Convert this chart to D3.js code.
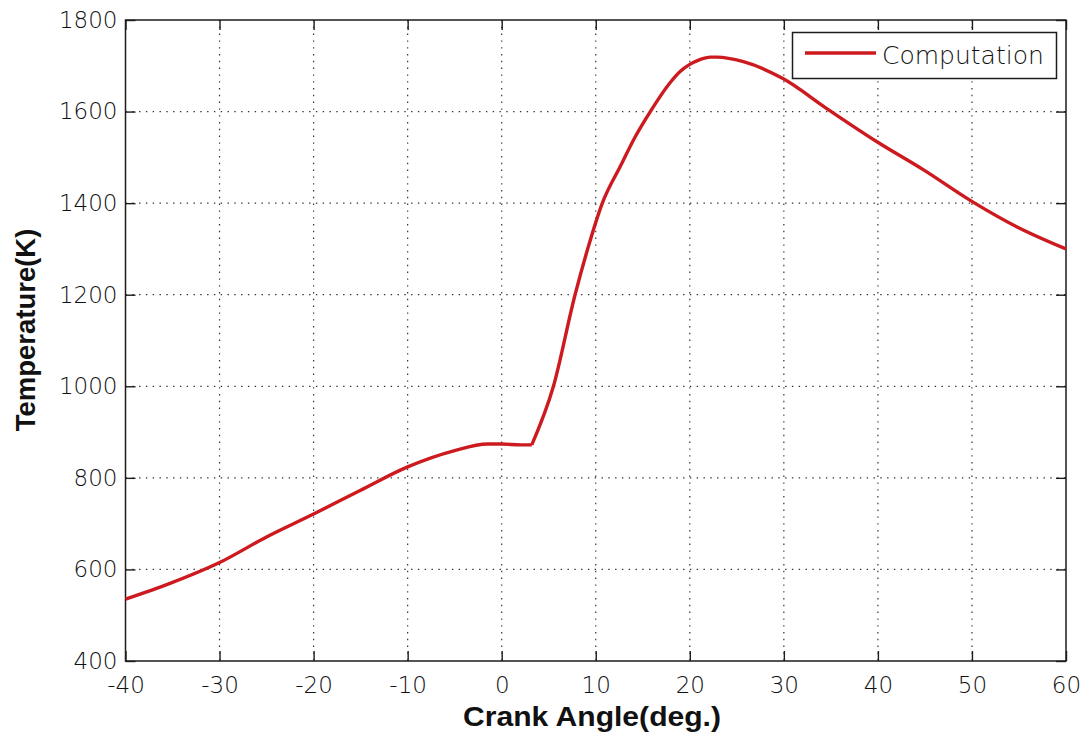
<!DOCTYPE html>
<html>
<head>
<meta charset="utf-8">
<script src="https://cdn.jsdelivr.net/npm/d3@7/dist/d3.min.js"></script>
<style>
  html, body { margin: 0; padding: 0; background: #fff; }
  svg { display: block; }
</style>
</head>
<body>
<svg id="chart" width="1086" height="740"></svg>
<script>
// Crank angle (deg) and in-cylinder temperature (K)
const crankAngle = [-40, -35.2, -30, -25, -20, -15, -10, -5.1, -1.5, 0, 2, 3.2,
  5.5, 7.8, 9.1, 10.7, 12.6, 14.2, 15.8, 17.9, 19, 20, 21, 22.2, 22.9,
  25.7, 29.9, 34.6, 39.9, 44.9, 49.9, 54.8, 60];
const temperature = [535, 570, 615, 671, 721, 773, 824, 859, 874, 874, 872, 872,
  1000, 1200, 1297, 1400, 1480, 1545, 1600, 1663, 1688, 1703, 1713, 1719, 1719,
  1709, 1672, 1606, 1534, 1472, 1405, 1348, 1300];
// angle where combustion starts (slope break in the curve)
const ignitionAngle = 3.2;

const xTicks = [-40, -30, -20, -10, 0, 10, 20, 30, 40, 50, 60];
const yTicks = [400, 600, 800, 1000, 1200, 1400, 1600, 1800];
const seriesName = "Computation";

const svg = d3.select("#chart");
const m = { left: 125.5, right: 1066, top: 20, bottom: 661 };

const x = d3.scaleLinear().domain([-40, 60]).range([m.left, m.right]);
const y = d3.scaleLinear().domain([400, 1800]).range([m.bottom, m.top]);

const tickFont = "'DejaVu Sans', Verdana, sans-serif";
const titleFont = "'Liberation Sans', Arial, sans-serif";
const ink = "#1c1c1c";
const red = "#cc1a1f";

// dotted grid
const grid = svg.append("g");
grid.selectAll("line.gx").data(xTicks.slice(1, -1)).join("line")
  .attr("x1", d => x(d)).attr("x2", d => x(d))
  .attr("y1", m.top).attr("y2", m.bottom)
  .attr("stroke", "#333").attr("stroke-width", 1.2)
  .attr("stroke-dasharray", "1.4,5.4");
grid.selectAll("line.gy").data(yTicks.slice(1, -1)).join("line")
  .attr("y1", d => y(d)).attr("y2", d => y(d))
  .attr("x1", m.left).attr("x2", m.right)
  .attr("stroke", "#333").attr("stroke-width", 1.2)
  .attr("stroke-dasharray", "1.4,5.4");

// axes with inward ticks on all four sides
const fmt = d => String(d);
function styleAxis(g) {
  g.select(".domain").remove();
  g.selectAll(".tick line").attr("stroke", ink).attr("stroke-width", 1.4);
  g.selectAll(".tick text").attr("fill", "#111")
    .style("font-family", tickFont).style("font-size", "23px").style("font-weight", "300");
}
svg.append("g").attr("transform", `translate(0,${m.bottom})`)
  .call(d3.axisBottom(x).tickValues(xTicks).tickFormat(fmt).tickSizeInner(-10).tickSizeOuter(0).tickPadding(16))
  .call(styleAxis);
svg.append("g").attr("transform", `translate(0,${m.top})`)
  .call(d3.axisTop(x).tickValues(xTicks).tickSizeInner(-10).tickSizeOuter(0).tickFormat(""))
  .call(styleAxis);
svg.append("g").attr("transform", `translate(${m.left},0)`)
  .call(d3.axisLeft(y).tickValues(yTicks).tickFormat(fmt).tickSizeInner(-10).tickSizeOuter(0).tickPadding(8))
  .call(styleAxis);
svg.append("g").attr("transform", `translate(${m.right},0)`)
  .call(d3.axisRight(y).tickValues(yTicks).tickSizeInner(-10).tickSizeOuter(0).tickFormat(""))
  .call(styleAxis);

// plot frame
svg.append("rect")
  .attr("x", m.left).attr("y", m.top)
  .attr("width", m.right - m.left).attr("height", m.bottom - m.top)
  .attr("fill", "none").attr("stroke", ink).attr("stroke-width", 1.5);

// temperature curve: smooth on each side of the ignition break
const pts = crankAngle.map((a, i) => [a, temperature[i]]);
const compression = pts.filter(d => d[0] <= ignitionAngle);
const combustion = pts.filter(d => d[0] >= ignitionAngle);
const line = d3.line().x(d => x(d[0])).y(d => y(d[1])).curve(d3.curveMonotoneX);
svg.append("path")
  .attr("fill", "none")
  .attr("stroke", red)
  .attr("stroke-width", 3.4)
  .attr("stroke-linejoin", "round")
  .attr("d", line(compression) + line(combustion));

// legend
const lg = svg.append("g");
lg.append("rect").attr("x", 792.5).attr("y", 32.5).attr("width", 264).attr("height", 46)
  .attr("fill", "#fff").attr("stroke", ink).attr("stroke-width", 1.5);
lg.append("line").attr("x1", 805).attr("x2", 876).attr("y1", 53).attr("y2", 53)
  .attr("stroke", red).attr("stroke-width", 3.4);
lg.append("text").attr("x", 882).attr("y", 64).text(seriesName)
  .attr("fill", "#111").style("font-family", tickFont).style("font-size", "25px").style("font-weight", "300");

// axis titles
svg.append("text").attr("x", 592).attr("y", 726).attr("text-anchor", "middle")
  .text("Crank Angle(deg.)").attr("fill", "#111")
  .attr("textLength", 258).attr("lengthAdjust", "spacingAndGlyphs")
  .style("font-family", titleFont).style("font-weight", "bold").style("font-size", "28px");
svg.append("text").attr("transform", "translate(35,330) rotate(-90)").attr("text-anchor", "middle")
  .text("Temperature(K)").attr("fill", "#111")
  .style("font-family", titleFont).style("font-weight", "bold").style("font-size", "27.5px");
</script>
</body>
</html>
